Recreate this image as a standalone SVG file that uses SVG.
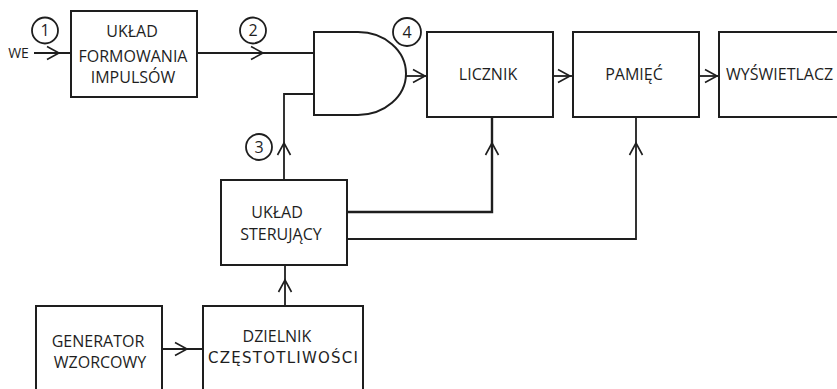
<svg xmlns="http://www.w3.org/2000/svg" width="837" height="389" viewBox="0 0 837 389">
<style>
.box{fill:#fff;stroke:#1e1e1e;stroke-width:2}
.ln{fill:none;stroke:#1e1e1e;stroke-width:1.8}
.ch{fill:none;stroke:#1e1e1e;stroke-width:1.6}
.t{font-family:"Open Sans","DejaVu Sans",sans-serif;font-size:16px;font-weight:500;fill:#1e1e1e;text-anchor:middle}
.n{font-family:"Open Sans","DejaVu Sans",sans-serif;font-size:16px;font-weight:500;fill:#1e1e1e;text-anchor:middle}
.c{fill:#fff;stroke:#1e1e1e;stroke-width:1.8}
</style>
<defs>
<path id="ch" d="M-12,-6.5 L0,0 L-12,6.5"/>
</defs>
<rect width="837" height="389" fill="#fff"/>
<g id="connectors">
<path class="ln" d="M34,53 H71"/>
<path class="ln" d="M197,53 H314"/>
<path class="ln" d="M284,180 V94 H314"/>
<path class="ln" d="M406,76 H427"/>
<path class="ln" d="M553,76 H573"/>
<path class="ln" d="M699,76 H719"/>
<path class="ln" d="M347,212 H492 V117" style="stroke-width:2.4"/>
<path class="ln" d="M347,239 H636 V117"/>
<path class="ln" d="M285,306 V265"/>
<path class="ln" d="M162,349 H203"/>
<use href="#ch" class="ch" transform="translate(59,53)"/>
<use href="#ch" class="ch" transform="translate(263,53)"/>
<use href="#ch" class="ch" transform="translate(425,76)"/>
<use href="#ch" class="ch" transform="translate(570,76)"/>
<use href="#ch" class="ch" transform="translate(717,76)"/>
<use href="#ch" class="ch" transform="translate(187,349)"/>
<use href="#ch" class="ch" transform="translate(284,143) rotate(-90)"/>
<use href="#ch" class="ch" transform="translate(492,143) rotate(-90)"/>
<use href="#ch" class="ch" transform="translate(636,143) rotate(-90)"/>
<use href="#ch" class="ch" transform="translate(285,280) rotate(-90)"/>
</g>
<g id="we"><text class="t" x="18.5" y="58" style="font-size:14px">WE</text></g>
<g id="label1"><circle class="c" cx="45" cy="30.5" r="13"/><text class="n" x="45" y="36">1</text></g>
<g id="label2"><circle class="c" cx="253" cy="30.5" r="13"/><text class="n" x="253" y="36">2</text></g>
<g id="label3"><circle class="c" cx="259" cy="147" r="13"/><text class="n" x="259" y="152.5">3</text></g>
<g id="label4"><circle class="c" cx="407" cy="32" r="14"/><text class="n" x="407" y="37.5">4</text></g>
<g id="formowania">
<rect class="box" x="71" y="11" width="126" height="86"/>
<text class="t" x="132" y="37">UKŁAD</text>
<text class="t" x="133" y="62">FORMOWANIA</text>
<text class="t" x="133" y="83">IMPULSÓW</text>
</g>
<g id="and">
<path class="box" d="M314,32 H358 A48,41.5 0 0 1 358,115 H314 Z"/>
</g>
<g id="licznik">
<rect class="box" x="427" y="32" width="126" height="85"/>
<text class="t" x="488" y="80">LICZNIK</text>
</g>
<g id="pamiec">
<rect class="box" x="573" y="32" width="126" height="85"/>
<text class="t" x="634" y="80">PAMIĘĆ</text>
</g>
<g id="wyswietlacz">
<rect class="box" x="719" y="32" width="130" height="85"/>
<text class="t" x="726" y="80" style="text-anchor:start">WYŚWIETLACZ</text>
</g>
<g id="sterujacy">
<rect class="box" x="221" y="180" width="126" height="85"/>
<text class="t" x="277" y="218">UKŁAD</text>
<text class="t" x="281" y="240">STERUJĄCY</text>
</g>
<g id="generator">
<rect class="box" x="36" y="306" width="126" height="95"/>
<text class="t" x="98" y="347">GENERATOR</text>
<text class="t" x="100" y="368">WZORCOWY</text>
</g>
<g id="dzielnik">
<rect class="box" x="203" y="306" width="160" height="95"/>
<text class="t" x="277" y="342">DZIELNIK</text>
<text class="t" x="283" y="363" textLength="150" lengthAdjust="spacing" style="font-family:'DejaVu Sans',sans-serif;font-size:15px;font-weight:normal">CZĘSTOTLIWOŚCI</text>
</g>
</svg>
